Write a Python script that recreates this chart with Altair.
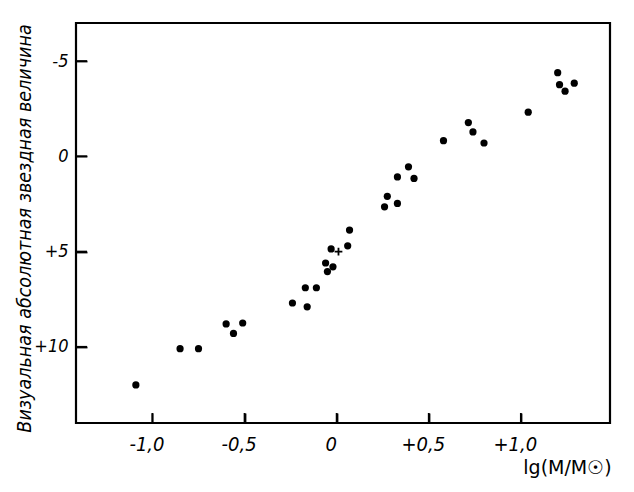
import altair as alt
import pandas as pd

# lg(M/Msun) and visual absolute magnitude of stars
lg_mass = [-1.09, -0.85, -0.75, -0.60, -0.51, -0.56, -0.24, -0.16, -0.17, -0.11,
           -0.06, -0.02, -0.05, -0.03, 0.06, 0.07, 0.275, 0.26, 0.33, 0.33,
           0.39, 0.42, 0.58, 0.715, 0.74, 0.80, 1.04, 1.20, 1.21, 1.29, 1.24]
abs_mag = [12.0, 10.1, 10.1, 8.8, 8.75, 9.3, 7.7, 7.9, 6.9, 6.9,
           5.6, 5.8, 6.05, 4.86, 4.7, 3.87, 2.1, 2.65, 2.47, 1.08,
           0.55, 1.16, -0.82, -1.77, -1.28, -0.70, -2.32, -4.39, -3.76, -3.84, -3.42]

# The Sun (cross marker)
sun_lg_mass = [0.01]
sun_abs_mag = [5.0]

x_ticks = [-1.0, -0.5, 0.0, 0.5, 1.0]
y_ticks = [-5, 0, 5, 10]

x_domain = [-1.415, 1.484]
y_domain = [-7.0, 14.0]

W, H = 534, 400
X_TICK_PX = 10
Y_TICK_PX = 11

FONT = "Liberation Sans Narrow, DejaVu Sans Condensed, DejaVu Sans, sans-serif"

stars = pd.DataFrame({"x": lg_mass, "y": abs_mag})
sun = pd.DataFrame({"x": sun_lg_mass, "y": sun_abs_mag})

# inward tick marks, running from the frame edge into the plot
x_per_px = (x_domain[1] - x_domain[0]) / W
y_per_px = (y_domain[1] - y_domain[0]) / H
yt = pd.DataFrame({
    "x": [x_domain[0]] * len(y_ticks),
    "x2": [x_domain[0] + Y_TICK_PX * x_per_px] * len(y_ticks),
    "y": [float(v) for v in y_ticks],
})
xt = pd.DataFrame({
    "x": x_ticks,
    "y": [y_domain[1]] * len(x_ticks),
    "y2": [y_domain[1] - X_TICK_PX * y_per_px] * len(x_ticks),
})

xscale = alt.Scale(domain=x_domain, nice=False, zero=False)
yscale = alt.Scale(domain=y_domain, nice=False, zero=False, reverse=True)

# axes are shifted inside the frame by the tick length so their ticks point inward
xaxis = alt.Axis(
    values=x_ticks,
    grid=False, domain=False,
    ticks=True, tickSize=X_TICK_PX, tickWidth=1.8, tickColor="black", tickOpacity=1,
    offset=-X_TICK_PX,
    labelExpr="datum.value == 0 ? '0' : (datum.value > 0 ? '+' : '-') + replace(format(abs(datum.value), '.1f'), '.', ',')",
    labelFont=FONT, labelFontStyle="italic", labelFontSize=20, labelColor="black",
    labelPadding=11, labelOffset=-6,
    title="lg(M/M☉)", titleFont="DejaVu Sans", titleFontWeight="normal",
    titleFontSize=19, titleColor="black",
    titleX=491, titleY=50 + X_TICK_PX, titleAlign="center", titleBaseline="alphabetic",
    zindex=1,
)
yaxis = alt.Axis(
    values=y_ticks,
    grid=False, domain=False,
    ticks=True, tickSize=Y_TICK_PX, tickWidth=1.8, tickColor="black", tickOpacity=1,
    offset=-Y_TICK_PX,
    labelExpr="datum.value == 0 ? '0' : (datum.value > 0 ? '+' : '-') + abs(datum.value)",
    labelFont=FONT, labelFontStyle="italic", labelFontSize=18, labelColor="black",
    labelPadding=8,
    title="Визуальная абсолютная звездная величина",
    titleFont=FONT, titleFontStyle="italic", titleFontWeight="normal",
    titleFontSize=19.5, titleColor="black",
    titleX=-52 - Y_TICK_PX, titleY=205, titleAngle=-90, titleAlign="center", titleBaseline="middle",
    zindex=1,
)

X = alt.X("x:Q", scale=xscale, axis=xaxis)
Y = alt.Y("y:Q", scale=yscale, axis=yaxis)

points = alt.Chart(stars).mark_circle(color="black", opacity=1, size=52).encode(x=X, y=Y)

sun_mark = alt.Chart(sun).mark_point(
    shape="M-1,0L1,0M0,-1L0,1", color="black", strokeWidth=1.8, size=60,
    filled=False, opacity=1
).encode(x=X, y=Y)

y_tick_marks = alt.Chart(yt).mark_rule(color="black", strokeWidth=1.8, opacity=1).encode(
    x=X, x2="x2:Q", y=Y
)

x_tick_marks = alt.Chart(xt).mark_rule(color="black", strokeWidth=1.8, opacity=1).encode(
    x=X, y=Y, y2="y2:Q"
)

chart = alt.layer(points, sun_mark, y_tick_marks, x_tick_marks).properties(
    width=W,
    height=H,
    autosize=alt.AutoSizeParams(type="none"),
    padding={"left": 68, "top": 15, "right": 16, "bottom": 60},
    background="white",
).configure_view(
    stroke="black", strokeWidth=2.2
)

chart.save("out.html", embed_options={"renderer": "svg", "actions": False})
